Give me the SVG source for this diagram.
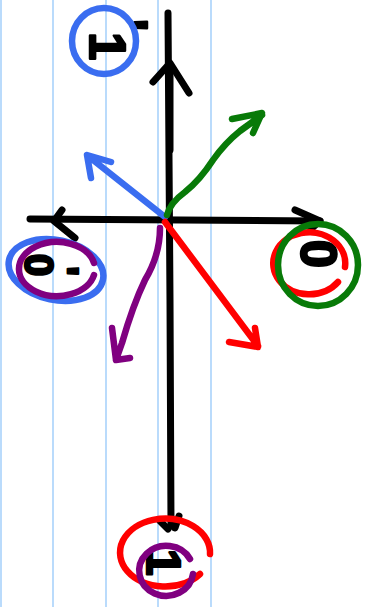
<svg xmlns="http://www.w3.org/2000/svg" width="374" height="607" viewBox="0 0 374 607">
<style>
.paper{stroke:#a9d2fb;stroke-width:1.6;fill:none}
.ink{fill:none;stroke-linecap:round;stroke-linejoin:round}
.k{stroke:#000;stroke-width:7}
.b{stroke:#3a6df0;stroke-width:6.5}
.g{stroke:#087a08;stroke-width:6.5}
.r{stroke:#ff0000;stroke-width:6.5}
.p{stroke:#800080;stroke-width:6.5}
.lbl{font-family:"Liberation Sans",Arial,sans-serif;font-weight:bold;fill:#000;stroke:#000;stroke-width:2.5;stroke-linejoin:round}
</style>
<rect width="374" height="607" fill="#fff"/>
<g id="paper">
<line class="paper" x1="1" y1="0" x2="1" y2="607"/>
<line class="paper" x1="53" y1="0" x2="53" y2="607"/>
<line class="paper" x1="106" y1="0" x2="106" y2="607"/>
<line class="paper" x1="158" y1="0" x2="158" y2="607"/>
<line class="paper" x1="211" y1="0" x2="211" y2="607"/>
</g>
<g id="connectors">
<path class="ink k" d="M30 219 L320 221"/>
<path class="ink k" d="M62 210 L54 221 L75 238"/>
<path class="ink k" d="M295 210 L320 221 L311 229"/>
<path class="ink k" d="M168 13 L170 300 L171 526"/>
<path class="ink k" stroke-width="10" d="M170 70 L170 150"/>
<path class="ink k" d="M153 82 L170 63 L189 93"/>
<path class="ink k" d="M179 516 L175 528"/>
<path class="ink k" d="M160 521 L168 529"/>
<path class="ink b" d="M165 217 L88 156 M91 178 L87 155 L111 162"/>
<path class="ink g" d="M167 215 Q170 203 185 192 Q200 180 213 160 Q225 143 240 131 L262 115 M232 119 L262 113 L253 133"/>
<path class="ink r" d="M165 222 L258 346 M229 342 L258 347 L255 328"/>
<path class="ink p" d="M160 228 Q160 255 145 280 Q133 305 122 343 L116 360 M112 328 L116 360 L130 358"/>
</g>
<g id="node-1prime">
<text class="lbl" font-size="50" transform="translate(90,19) rotate(90)">1<tspan dx="-41" dy="-22">'</tspan></text>
<ellipse class="ink b" cx="104" cy="41" rx="32" ry="33"/>
</g>
<g id="node-0prime">
<text class="lbl" font-size="40" transform="translate(25,254) rotate(90)">0<tspan dx="-10" dy="-25">'</tspan></text>
<ellipse class="ink b" cx="56" cy="270" rx="48" ry="30" transform="rotate(12 56 270)"/>
<path class="ink p" d="M94 275 A38 27 0 1 1 94 263"/>
</g>
<g id="node-0">
<text class="lbl" font-size="50" transform="translate(301,240) rotate(90)">0</text>
<path class="ink r" d="M338 282 A36 31 0 1 1 345 267"/>
<ellipse class="ink g" cx="318" cy="265" rx="40" ry="41"/>
</g>
<g id="node-1">
<text class="lbl" font-size="48" transform="translate(147,549) rotate(90)">1</text>
<path class="ink r" d="M200 574 A45 34 0 1 1 210 554"/>
<path class="ink p" d="M193 574 A27 25 0 1 1 190 559"/>
</g>
</svg>
